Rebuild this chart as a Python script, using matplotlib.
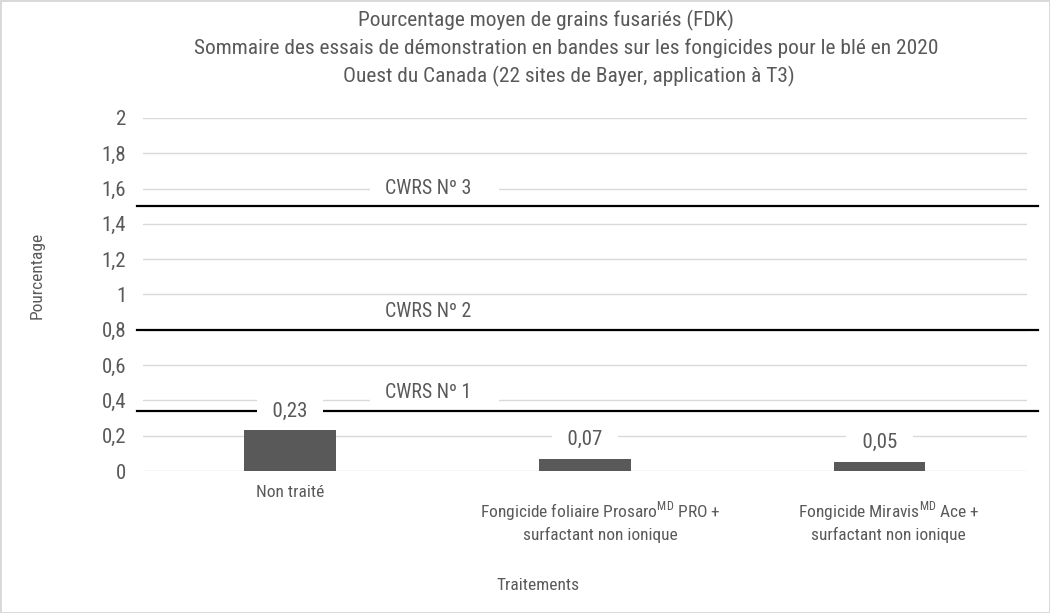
import matplotlib
matplotlib.use('Agg')
import matplotlib.pyplot as plt
from matplotlib.ticker import FuncFormatter

plt.rcParams['font.family'] = ['Roboto Condensed', 'Archivo Narrow', 'DejaVu Sans']
plt.rcParams['mathtext.fontset'] = 'custom'
plt.rcParams['mathtext.rm'] = 'Roboto Condensed'

# data
categories = ['Non traité',
              'Fongicide foliaire Prosaro$^{\\mathrm{MD}}$ PRO +\nsurfactant non ionique',
              'Fongicide Miravis$^{\\mathrm{MD}}$ Ace +\nsurfactant non ionique']
values = [0.23, 0.07, 0.05]
value_labels = ['0,23', '0,07', '0,05']
grade_names = ['CWRS Nº 3', 'CWRS Nº 2', 'CWRS Nº 1']
grade_limits = [1.5, 0.8, 0.34]
y_ticks = [0, 0.2, 0.4, 0.6, 0.8, 1, 1.2, 1.4, 1.6, 1.8, 2]
title_lines = ['Pourcentage moyen de grains fusariés (FDK)',
               'Sommaire des essais de démonstration en bandes sur les fongicides pour le blé en 2020',
               'Ouest du Canada (22 sites de Bayer, application à T3)']

text_col = '#595959'
grid_col = '#d9d9d9'

fig = plt.figure(figsize=(10.5, 6.13), dpi=100, edgecolor=grid_col, linewidth=2)
ax = fig.add_axes([0.136, 0.2316, 0.842, 0.576])

x = list(range(len(categories)))
ax.bar(x, values, width=0.31, color=text_col, zorder=5)
ax.set_xlim(-0.5, len(categories) - 0.5)
ax.set_ylim(0, 2)
ax.set_yticks(y_ticks)
ax.yaxis.set_major_formatter(FuncFormatter(lambda v, p: ('%g' % v).replace('.', ',')))
ax.grid(axis='y', color=grid_col, linewidth=1, zorder=0.5)
ax.set_axisbelow(True)
ax.tick_params(axis='y', length=0, labelsize=15, labelcolor=text_col, pad=12)
ax.tick_params(axis='x', length=0, labelbottom=False)
for s in ax.spines.values():
    s.set_visible(False)

# grade limit lines and their labels
for name, lim in zip(grade_names, grade_limits):
    ax.axhline(lim, xmin=-0.006, xmax=1.0125, color='black', linewidth=1.6,
               clip_on=False, zorder=3)
    ax.annotate('  ' + name + '     ', (0.49, lim), xytext=(0, 13), textcoords='offset points',
                ha='center', va='center', fontsize=14.3, color=text_col, zorder=1.5,
                bbox=dict(boxstyle='square,pad=0.3', fc='white', ec='none'))

# value labels above the bars
for xi, v, lab in zip(x, values, value_labels):
    ax.annotate('  ' + lab + '  ', (xi, v), xytext=(0, 14), textcoords='offset points',
                ha='center', va='center', fontsize=15, color=text_col, zorder=4,
                bbox=dict(boxstyle='square,pad=0.3', fc='white', ec='none'))

# category labels (slightly off-centre in the reference)
label_y = [-0.062, -0.142, -0.142]
label_dx = [0, 11, 6.5]
for xi, cat, ly, dx in zip(x, categories, label_y, label_dx):
    ax.annotate(cat, (xi, ly), xycoords=ax.get_xaxis_transform(), xytext=(dx, 0),
                textcoords='offset points', ha='center', va='center',
                fontsize=12.5, color=text_col, linespacing=1.3)

ax.set_ylabel('Pourcentage', fontsize=12.5, color=text_col)
ax.yaxis.set_label_coords(-0.111, 0.555)
fig.text(0.512, 0.045, 'Traitements', ha='center', va='center', fontsize=12.5, color=text_col)

title_x = [546, 566, 569]
title_y = [20, 48, 76]
for line, tx, ty in zip(title_lines, title_x, title_y):
    fig.text(tx / 1050, 1 - ty / 613, line, ha='center', va='center',
             fontsize=15.4, color=text_col)

fig.savefig('out.png', dpi=100, edgecolor=fig.get_edgecolor())
